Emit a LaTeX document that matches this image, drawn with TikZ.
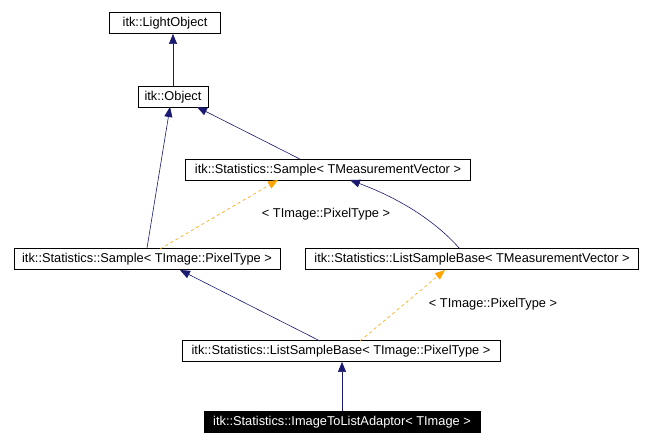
\documentclass[tikz,border=0pt]{standalone}
\usepackage{fontspec}
\setmainfont{Liberation Sans}
\usetikzlibrary{arrows.meta}
\definecolor{navy}{RGB}{25,25,112}
\definecolor{org}{RGB}{255,165,0}
\begin{document}
\begin{tikzpicture}[x=1pt,y=-1pt,
  cls/.style={draw,thick,inner sep=1.5pt,minimum height=21pt,font=\fontsize{12.8}{14}\selectfont},
  inh/.style={navy,semithick,-{Triangle[open,length=10pt,width=8pt,fill=navy]}},
  tpl/.style={org,semithick,dashed,-{Triangle[length=10pt,width=8pt,fill=org]}},
  lbl/.style={font=\fontsize{12.8}{14}\selectfont}]
\useasboundingbox (0,0) rectangle (654,446);
\node[cls,minimum width=111pt] (lo) at (165,23) {itk::LightObject};
\node[cls,minimum width=70pt] (ob) at (173,97) {itk::Object};
\node[cls,minimum width=285pt] (st) at (328,170) {itk::Statistics::Sample< TMeasurementVector >};
\node[cls,minimum width=266pt] (sp) at (147,259) {itk::Statistics::Sample< TImage::PixelType >};
\node[cls,minimum width=333pt] (lt) at (472,259) {itk::Statistics::ListSampleBase< TMeasurementVector >};
\node[cls,minimum width=318pt] (lp) at (341,351) {itk::Statistics::ListSampleBase< TImage::PixelType >};
\node[cls,fill=black,text=white,minimum width=276pt] (ad) at (342,422) {itk::Statistics::ImageToListAdaptor< TImage >};
\draw[inh] (ob.north -| 173,0) -- (lo.south -| 173,0);
\draw[inh] (st.north -| 300,0) -- (197,107);
\draw[inh] (sp.north) -- (170,107);
\draw[tpl] (160,249) -- (278,180);
\node[lbl] (l1) at (326,214) {< TImage::PixelType >};
\draw[inh] (460,249) .. controls (430,215) and (390,195) .. (350,180);
\draw[inh] (320,341) -- (180,270);
\draw[tpl] (360,341) -- (445,270);
\node[lbl] (l2) at (493,304) {< TImage::PixelType >};
\draw[inh] (ad.north -| 342,0) -- (lp.south -| 342,0);
\end{tikzpicture}
\end{document}
